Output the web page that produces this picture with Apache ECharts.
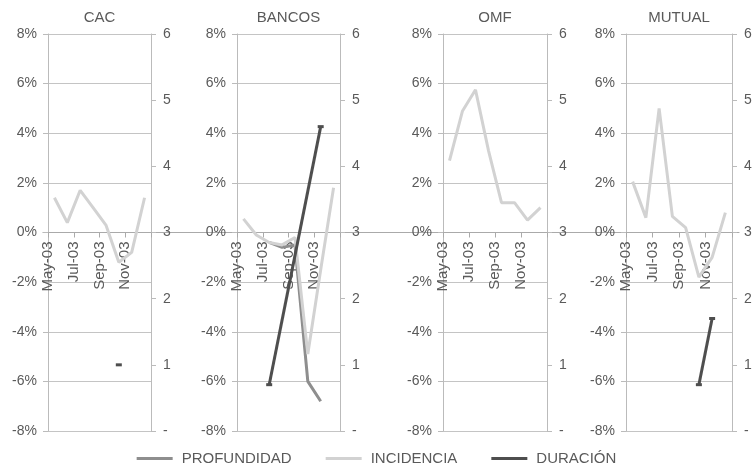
<!DOCTYPE html>
<html><head><meta charset="utf-8">
<script src="https://cdn.jsdelivr.net/npm/echarts@6/dist/echarts.min.js"></script>
<style>html,body{margin:0;padding:0;background:#fff}#c{width:753px;height:471px}</style>
</head><body><div id="c"></div>
<script>
// ---- data ----
const panelTitles = ['CAC', 'BANCOS', 'OMF', 'MUTUAL'];
const months = ['May-03', 'Jun-03', 'Jul-03', 'Aug-03', 'Sep-03', 'Oct-03', 'Nov-03', 'Dec-03'];
const xTickLabels = ['May-03', 'Jul-03', 'Sep-03', 'Nov-03', ''];
const seriesNames = ['PROFUNDIDAD', 'INCIDENCIA', 'DURACIÓN'];

// PROFUNDIDAD and INCIDENCIA in % (left axis); DURACIÓN on right axis (0-6)
const cacProfundidad    = [null, null, null, null, null, null, null, null];
const cacIncidencia     = [1.4, 0.4, 1.7, 1.0, 0.3, -1.2, -0.8, 1.4];
const cacDuracion       = [null, null, null, null, null, 1.0, null, null];

const bancosProfundidad = [null, null, -0.4, -0.6, -0.5, -6.0, -6.8, null];
const bancosIncidencia  = [0.55, -0.1, -0.4, -0.5, -0.2, -4.9, -1.5, 1.8];
const bancosDuracion    = [null, null, 0.7, null, null, null, 4.6, null];

const omfProfundidad    = [null, null, null, null, null, null, null, null];
const omfIncidencia     = [2.9, 4.9, 5.75, 3.3, 1.2, 1.2, 0.5, 1.0];
const omfDuracion       = [null, null, null, null, null, null, null, null];

const mutualProfundidad = [null, null, null, null, null, null, null, null];
const mutualIncidencia  = [2.05, 0.6, 5.0, 0.65, 0.2, -1.8, -1.0, 0.8];
const mutualDuracion    = [null, null, null, null, null, 0.7, 1.7, null];

const panelData = [
  [cacProfundidad, cacIncidencia, cacDuracion],
  [bancosProfundidad, bancosIncidencia, bancosDuracion],
  [omfProfundidad, omfIncidencia, omfDuracion],
  [mutualProfundidad, mutualIncidencia, mutualDuracion]
];

// ---- styling / layout ----
const FONT = "'Liberation Sans', Arial, sans-serif";
const TXT = '#5a5a5a';
const GRIDC = '#c4c4c4';
const colors = ['#8e8e8e', '#d2d2d2', '#4e4e4e'];
const gridBoxes = [
  { left: 48, width: 103 },
  { left: 237, width: 103 },
  { left: 443, width: 104 },
  { left: 626, width: 106 }
];
const TOP = 34, BOTTOM = 40, H = 471 - TOP - BOTTOM;

const grid = [], xAxis = [], yAxis = [], series = [], title = [];
gridBoxes.forEach((b, p) => {
  grid.push({ left: b.left, width: b.width, top: TOP, bottom: BOTTOM, containLabel: false, outerBoundsMode: 'none' });
  title.push({
    text: panelTitles[p], left: b.left + b.width / 2, top: 10, textAlign: 'center', padding: 0,
    textStyle: { fontFamily: FONT, fontSize: 15, fontWeight: 'normal', color: TXT }
  });
  xAxis.push({
    type: 'value', gridIndex: p, min: 0, max: 8, interval: 2,
    position: 'bottom', offset: -H / 2,
    axisLine: { show: true, onZero: false, lineStyle: { color: '#aaa', width: 1 } },
    axisTick: { show: true, length: 5, lineStyle: { color: '#aaa' } },
    splitLine: { show: false },
    axisLabel: {
      rotate: 90, margin: 9, fontFamily: FONT, fontSize: 15, color: TXT,
      formatter: v => xTickLabels[Math.round(v / 2)] || ''
    }
  });
  yAxis.push({
    type: 'value', gridIndex: p, position: 'left', min: -8, max: 8, interval: 2,
    axisLine: { show: true, onZero: false, lineStyle: { color: '#bbb' } },
    axisTick: { show: true, length: 5, lineStyle: { color: '#bbb' } },
    splitLine: { show: true, lineStyle: { color: GRIDC, width: 1 } },
    axisLabel: { margin: 11, fontFamily: FONT, fontSize: 14, color: TXT, formatter: v => v + '%' }
  });
  yAxis.push({
    type: 'value', gridIndex: p, position: 'right', min: 0, max: 6, interval: 1,
    axisLine: { show: true, onZero: false, lineStyle: { color: '#bbb' } },
    axisTick: { show: true, length: 5, lineStyle: { color: '#bbb' } },
    splitLine: { show: false },
    axisLabel: { margin: 12, fontFamily: FONT, fontSize: 14, color: TXT, formatter: v => v === 0 ? '-' : String(v) }
  });
  panelData[p].forEach((arr, k) => {
    if (arr.every(v => v == null)) {
      series.push({ name: seriesNames[k], type: 'line', xAxisIndex: p, yAxisIndex: 2 * p, data: [], color: colors[k] });
      return;
    }
    const isDur = k === 2;
    series.push({
      name: seriesNames[k], type: 'line',
      xAxisIndex: p, yAxisIndex: isDur ? 2 * p + 1 : 2 * p,
      data: months.map((m, i) => [i + 0.5, arr[i] == null ? '-' : arr[i]]),
      color: colors[k],
      lineStyle: { color: colors[k], width: 3 },
      symbol: isDur ? 'rect' : 'none',
      symbolSize: [6, 3],
      showSymbol: isDur,
      itemStyle: { color: colors[k] },
      connectNulls: isDur,
      silent: true, animation: false, z: 3 + (isDur ? 1 : 0)
    });
  });
});

// full-width zero line running across all panels
grid.push({ left: 43, right: 14, top: TOP, bottom: BOTTOM, containLabel: false, outerBoundsMode: 'none' });
xAxis.push({
  type: 'value', gridIndex: 4, min: 0, max: 1,
  axisLine: { show: true, onZero: true, onZeroAxisIndex: 8, lineStyle: { color: '#aaa', width: 1.2 } },
  axisTick: { show: false }, axisLabel: { show: false }, splitLine: { show: false }
});
yAxis.push({ type: 'value', gridIndex: 4, min: -8, max: 8, show: false });

const option = {
  backgroundColor: '#fff',
  animation: false,
  title,
  grid, xAxis, yAxis, series,
  legend: {
    data: seriesNames, top: 446, left: 'center',
    icon: 'rect', itemWidth: 36, itemHeight: 3, itemGap: 34,
    textStyle: { fontFamily: FONT, fontSize: 15, color: TXT, padding: [0, 0, 0, 4] }
  }
};
const chart = echarts.init(document.getElementById('c'), null, { renderer: 'canvas' });
chart.setOption(option);
</script></body></html>
